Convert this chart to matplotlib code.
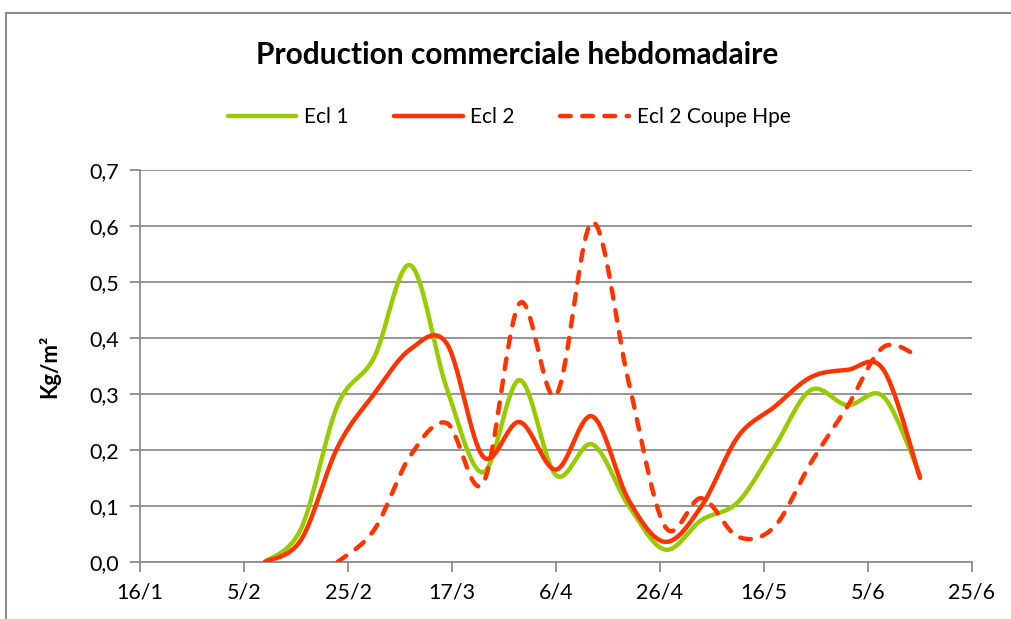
import numpy as np
import matplotlib
matplotlib.use("Agg")
import matplotlib.pyplot as plt
from matplotlib.patches import Rectangle
from datetime import date

plt.rcParams['font.family'] = ['Lato', 'DejaVu Sans']

# x axis: day offsets from 16/1, ticks every 20 days
origin = date(2009, 1, 16)
tick_labels = ["16/1", "5/2", "25/2", "17/3", "6/4", "26/4", "16/5", "5/6", "25/6"]

# weekly harvest dates (day/month)
weeks = ["9/2", "16/2", "23/2", "2/3", "9/3", "16/3", "23/3", "30/3", "6/4", "13/4",
         "20/4", "27/4", "4/5", "11/5", "18/5", "25/5", "1/6", "8/6", "15/6"]

ecl1 = [0.0, 0.06, 0.28, 0.365, 0.53, 0.31, 0.16, 0.325, 0.155, 0.21,
        0.10, 0.022, 0.075, 0.107, 0.205, 0.307, 0.28, 0.295, 0.155]
ecl2 = [0.0, 0.04, 0.205, 0.30, 0.38, 0.39, 0.188, 0.25, 0.165, 0.26,
        0.11, 0.036, 0.10, 0.224, 0.277, 0.33, 0.343, 0.343, 0.15]
# starts on 23/2
ecl2_hpe = [None, None, 0.0, 0.057, 0.19, 0.248, 0.141, 0.462, 0.298, 0.607,
            0.32, 0.063, 0.114, 0.045, 0.063, 0.177, 0.277, 0.384, 0.365]

GREEN = "#99CC00"
RED = "#FF3300"
GRID = "#8C8C8C"


def day_of(s):
    d, m = s.split("/")
    return (date(2009, int(m), int(d)) - origin).days


def smooth(xs, ys, n=30):
    # Excel-style smoothed line: cubic bezier through points, tangent (P[i+1]-P[i-1])/6
    p = np.column_stack([xs, ys]).astype(float)
    out = [p[0]]
    for i in range(len(p) - 1):
        p0 = p[i - 1] if i > 0 else p[i]
        p1, p2 = p[i], p[i + 1]
        p3 = p[i + 2] if i + 2 < len(p) else p[i + 1]
        c1 = p1 + (p2 - p0) / 6
        c2 = p2 - (p3 - p1) / 6
        t = np.linspace(0, 1, n)[1:, None]
        seg = ((1 - t) ** 3) * p1 + 3 * ((1 - t) ** 2) * t * c1 + 3 * (1 - t) * t ** 2 * c2 + t ** 3 * p2
        out.extend(seg)
    out = np.array(out)
    return out[:, 0], out[:, 1]


x = np.array([day_of(w) for w in weeks])

fig = plt.figure(figsize=(10.12, 6.19), dpi=100)
ax = fig.add_axes([140 / 1012, 1 - 562 / 619, 832 / 1012, 392 / 619])

sx, sy = smooth(x, ecl1)
ax.plot(sx, sy, color=GREEN, lw=3.2, solid_capstyle='round', label="Ecl 1", zorder=3)
sx, sy = smooth(x, ecl2)
ax.plot(sx, sy, color=RED, lw=3.2, solid_capstyle='round', label="Ecl 2", zorder=4)
idx = [i for i, v in enumerate(ecl2_hpe) if v is not None]
sx, sy = smooth(x[idx], [ecl2_hpe[i] for i in idx])
ax.plot(sx, sy, color=RED, lw=3.2, ls=(0, (2.4, 2.6)), dash_capstyle='round',
        label="Ecl 2 Coupe Hpe", zorder=5)

ax.set_xlim(0, 160)
ax.set_ylim(0, 0.7)
ax.set_xticks(np.arange(0, 161, 20))
ax.set_xticklabels(tick_labels)
yt = np.arange(0, 0.71, 0.1)
ax.set_yticks(yt)
ax.set_yticklabels([f"{v:.1f}".replace(".", ",") for v in yt])
ax.grid(axis='y', color=GRID, lw=1.3)
ax.set_axisbelow(True)
for s in ['top', 'right']:
    ax.spines[s].set_visible(False)
for s in ['left', 'bottom']:
    ax.spines[s].set_color(GRID)
    ax.spines[s].set_linewidth(1.3)
ax.tick_params(colors=GRID, labelcolor='black', labelsize=15.5, length=7, width=1.3, pad=8)
ax.set_ylabel("Kg/m²", fontsize=16, fontweight='bold')
ax.yaxis.set_label_coords(-0.096, 0.5)

fig.text(517 / 1012, 1 - 55 / 619, "Production commerciale hebdomadaire",
         ha='center', va='center', fontsize=21.5, fontweight='bold')
fig.legend(loc='center', bbox_to_anchor=(509 / 1012, 1 - 117 / 619), ncol=3,
           frameon=False, fontsize=15, handlelength=3.3, columnspacing=2.2,
           handletextpad=0.35)

fig.patches.append(Rectangle((6 / 1012, -0.1), 1.2, 1.1 + (1 - 13 / 619) - 1,
                             transform=fig.transFigure, fill=False,
                             edgecolor="#8C8C8C", lw=1.5))

fig.savefig("out.png", dpi=100)
